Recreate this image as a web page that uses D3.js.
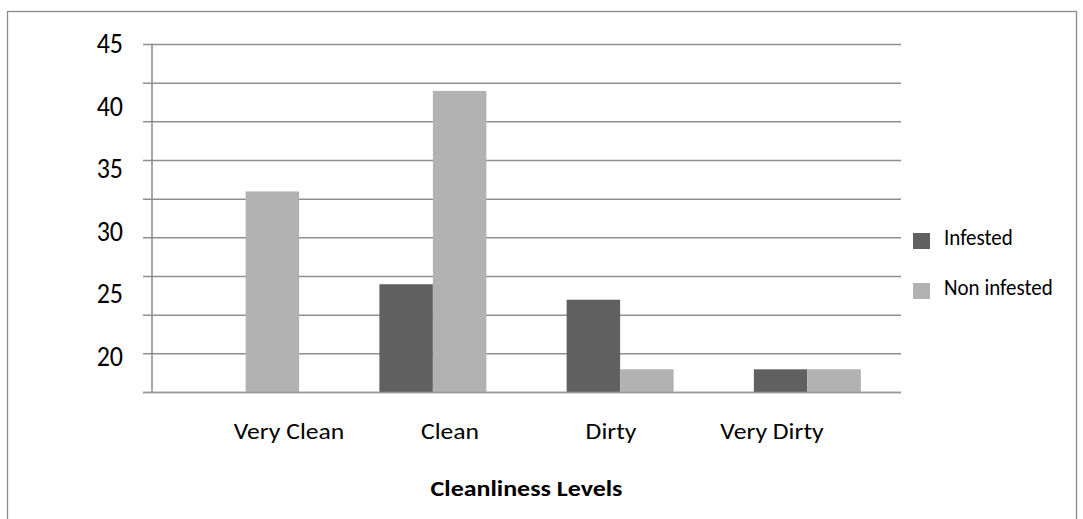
<!DOCTYPE html>
<html>
<head>
<meta charset="utf-8">
<script src="https://cdn.jsdelivr.net/npm/d3@7"></script>
<style>
  body { margin: 0; background: #fff; }
  text { font-family: Carlito, Calibri, Lato, sans-serif; fill: #000; }
</style>
</head>
<body>
<svg width="1083" height="519"></svg>
<script>
// cleanliness chart
var categories = ['Very Clean', 'Clean', 'Dirty', 'Very Dirty'];
var series = ['Infested', 'Non infested'];
var infested = [0, 14, 12, 3];
var nonInfested = [26, 39, 3, 3];
var gridTicks = [0, 5, 10, 15, 20, 25, 30, 35, 40, 45];
var tickLabels = [45, 40, 35, 30, 25, 20];
var colors = ['#606060', '#b2b2b2'];

var svg = d3.select('svg');

// outer frame
svg.append('rect')
  .attr('x', 7.5).attr('y', 11.5)
  .attr('width', 1069).attr('height', 530)
  .attr('fill', 'none')
  .attr('stroke', '#8a8a8a')
  .attr('stroke-width', 1.3);

var plotLeft = 152, plotRight = 901, plotTop = 44.5, plotBottom = 392.5;

var y = d3.scaleLinear().domain([0, 45]).range([plotBottom, plotTop]);
// the printed labels do not sit on the gridlines in the picture
var yLabel = d3.scaleLinear().domain([20, 45]).range([358, 45]);

var x0 = d3.scaleBand().domain(categories).range([plotLeft, plotRight]);
var bw = x0.bandwidth();
var x1 = d3.scaleBand().domain(series)
  .range([bw * 0.75 / 3.5, bw - bw * 0.75 / 3.5]);
// category labels also sit off the bands
var xLabel = d3.scalePoint().domain(categories).range([289, 772]);

// gridlines
svg.append('g')
  .selectAll('line')
  .data(gridTicks)
  .enter()
  .append('line')
  .attr('x1', 143)
  .attr('x2', plotRight)
  .attr('y1', function(d) { return y(d); })
  .attr('y2', function(d) { return y(d); })
  .attr('stroke', '#8f8f8f')
  .attr('stroke-width', 1.5);

// bars
var rows = categories.map(function(c, i) {
  return { cat: c, vals: [infested[i], nonInfested[i]] };
});

var groups = svg.append('g')
  .selectAll('g')
  .data(rows)
  .enter()
  .append('g')
  .attr('transform', function(d) { return 'translate(' + x0(d.cat) + ',0)'; });

groups.selectAll('rect')
  .data(function(d) {
    return d.vals.map(function(v, j) { return { s: series[j], v: v, j: j }; });
  })
  .enter()
  .append('rect')
  .attr('x', function(d) { return x1(d.s); })
  .attr('width', x1.bandwidth())
  .attr('y', function(d) { return y(d.v); })
  .attr('height', function(d) { return plotBottom - y(d.v); })
  .attr('fill', function(d) { return colors[d.j]; });

// y axis line
svg.append('line')
  .attr('x1', plotLeft).attr('x2', plotLeft)
  .attr('y1', plotTop).attr('y2', plotBottom)
  .attr('stroke', '#8a8a8a')
  .attr('stroke-width', 1.5);

// baseline on top of bars
svg.append('line')
  .attr('x1', 143).attr('x2', plotRight)
  .attr('y1', plotBottom).attr('y2', plotBottom)
  .attr('stroke', '#9a9a9a')
  .attr('stroke-width', 1.5);

// tick labels
svg.append('g')
  .selectAll('text')
  .data(tickLabels)
  .enter()
  .append('text')
  .attr('transform', function(d) { return 'translate(123,' + (yLabel(d) + 8) + ') scale(1,1.08)'; })
  .attr('text-anchor', 'end')
  .style('font-size', '26px')
  .text(function(d) { return d; });

// category labels (a bit wide like the picture)
svg.append('g')
  .selectAll('text')
  .data(categories)
  .enter()
  .append('text')
  .attr('transform', function(d) { return 'translate(' + xLabel(d) + ',439) scale(1.14,1)'; })
  .attr('text-anchor', 'middle')
  .style('font-size', '22.5px')
  .text(function(d) { return d; });

// axis title
svg.append('text')
  .attr('transform', 'translate(' + ((plotLeft + plotRight) / 2) + ',496) scale(1.18,1)')
  .attr('text-anchor', 'middle')
  .style('font-size', '22px')
  .style('font-weight', 'bold')
  .text('Cleanliness Levels');

// legend
var legend = svg.append('g')
  .selectAll('g')
  .data(series)
  .enter()
  .append('g')
  .attr('transform', function(d, i) { return 'translate(913,' + (233 + i * 50) + ')'; });

legend.append('rect')
  .attr('width', 17)
  .attr('height', 16)
  .attr('fill', function(d, i) { return colors[i]; });

legend.append('text')
  .attr('transform', 'translate(31,11.5) scale(1,1.05)')
  .style('font-size', '21px')
  .text(function(d) { return d; });
</script>
</body>
</html>
